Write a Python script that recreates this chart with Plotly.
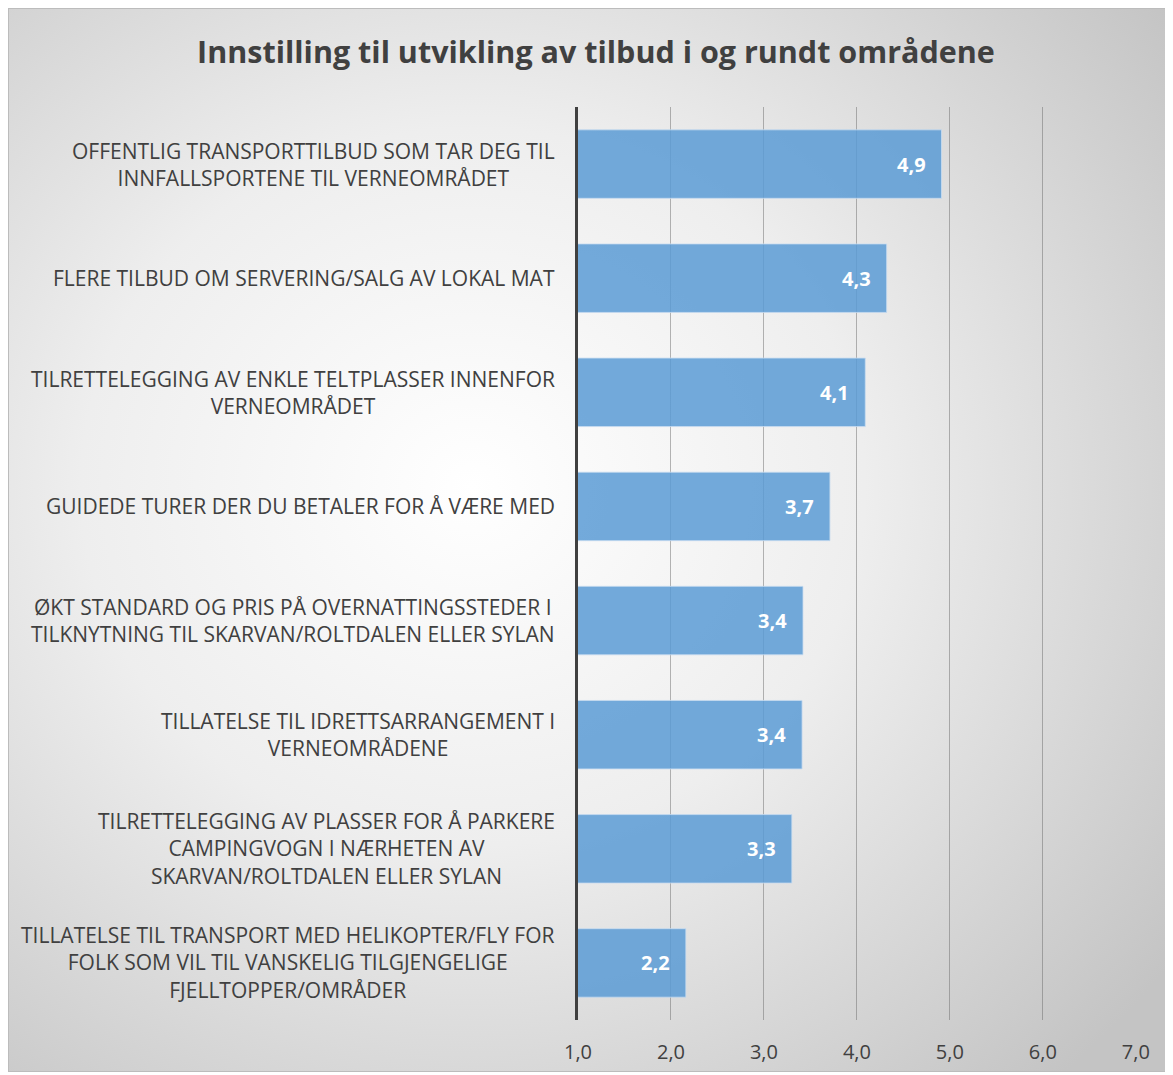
import base64
import plotly.graph_objects as go

# Data
categories = [
    "OFFENTLIG TRANSPORTTILBUD SOM TAR DEG TIL<br>INNFALLSPORTENE TIL VERNEOMRÅDET",
    "FLERE TILBUD OM SERVERING/SALG AV LOKAL MAT",
    "TILRETTELEGGING AV ENKLE TELTPLASSER INNENFOR<br>VERNEOMRÅDET",
    "GUIDEDE TURER DER DU BETALER FOR Å VÆRE MED",
    "ØKT STANDARD OG PRIS PÅ OVERNATTINGSSTEDER I<br>TILKNYTNING TIL SKARVAN/ROLTDALEN ELLER SYLAN",
    "TILLATELSE TIL IDRETTSARRANGEMENT I<br>VERNEOMRÅDENE",
    "TILRETTELEGGING AV PLASSER FOR Å PARKERE<br>CAMPINGVOGN I NÆRHETEN AV<br>SKARVAN/ROLTDALEN ELLER SYLAN",
    "TILLATELSE TIL TRANSPORT MED HELIKOPTER/FLY FOR<br>FOLK SOM VIL TIL VANSKELIG TILGJENGELIGE<br>FJELLTOPPER/OMRÅDER",
]
values = [4.91, 4.32, 4.09, 3.71, 3.42, 3.41, 3.30, 2.16]
bar_labels = ["4,9", "4,3", "4,1", "3,7", "3,4", "3,4", "3,3", "2,2"]
x_ticks = [1, 2, 3, 4, 5, 6, 7]

title = "Innstilling til utvikling av tilbud i og rundt områdene"

W, H = 1162, 1064
ml, mr, mt, mb = 570, 34, 99, 52
pw, ph = W - ml - mr, H - mt - mb

# Radial gray background as an inline SVG
svg = (
    f'<svg xmlns="http://www.w3.org/2000/svg" width="{W}" height="{H}" '
    f'preserveAspectRatio="none" viewBox="0 0 {W} {H}">'
    '<defs><radialGradient id="g" cx="0.4" cy="0.45" r="0.75">'
    '<stop offset="0" stop-color="#ffffff"/>'
    '<stop offset="0.45" stop-color="#eeeeee"/>'
    '<stop offset="1" stop-color="#c4c4c4"/>'
    '</radialGradient></defs>'
    f'<rect x="0.5" y="0.5" width="{W - 1}" height="{H - 1}" fill="url(#g)" '
    'stroke="#bcbcbc" stroke-width="1"/></svg>'
)
bg_src = "data:image/svg+xml;base64," + base64.b64encode(svg.encode()).decode()

fig = go.Figure()

fig.add_trace(go.Bar(
    y=categories,
    x=values,
    orientation='h',
    width=0.6,
    marker=dict(color='rgba(91,155,213,0.85)',
                line=dict(color='rgba(200,220,240,0.8)', width=1)),
    hoverinfo='skip',
))

# category labels, centered multi-line like the original
for cat in categories:
    fig.add_annotation(
        x=-0.037, xref='paper', y=cat, yref='y',
        text=cat, showarrow=False, xanchor='right', align='center',
        font=dict(family="Open Sans", size=21, color='#404040'),
    )

# value labels inside the bar ends
for cat, v, lab in zip(categories, values, bar_labels):
    fig.add_annotation(
        x=v, y=cat, xref='x', yref='y', text=lab, showarrow=False,
        xanchor='right', xshift=-14,
        font=dict(family="Open Sans", size=20, color='white', weight='bold'),
    )

fig.add_layout_image(
    source=bg_src, xref='paper', yref='paper',
    x=-ml / pw, y=1 + mt / ph,
    sizex=W / pw, sizey=H / ph,
    xanchor='left', yanchor='top', sizing='stretch', layer='below',
)

fig.update_layout(
    width=W, height=H,
    margin=dict(l=ml, r=mr, t=mt, b=mb, autoexpand=False),
    paper_bgcolor='white',
    plot_bgcolor='rgba(0,0,0,0)',
    separators=',.',
    title=dict(text=title, x=0.506, xref='container', y=1 - 44 / H, yref='container',
               xanchor='center', yanchor='middle',
               font=dict(family="Open Sans", size=30.5, color='#404040', weight='bold')),
    xaxis=dict(range=[1, 7.002], tickvals=x_ticks, tickformat='.1f', automargin=False,
               showgrid=True, gridcolor='rgba(110,110,110,0.5)', gridwidth=1,
               zeroline=False, showline=False, ticks='', ticklabelstandoff=18,
               tickfont=dict(family="Open Sans", size=20, color='#404040')),
    yaxis=dict(autorange='reversed', showticklabels=False, showgrid=False, automargin=False,
               showline=True, linecolor='#404040', linewidth=3, ticks=''),
    showlegend=False,
)

fig.write_html("out.html")
